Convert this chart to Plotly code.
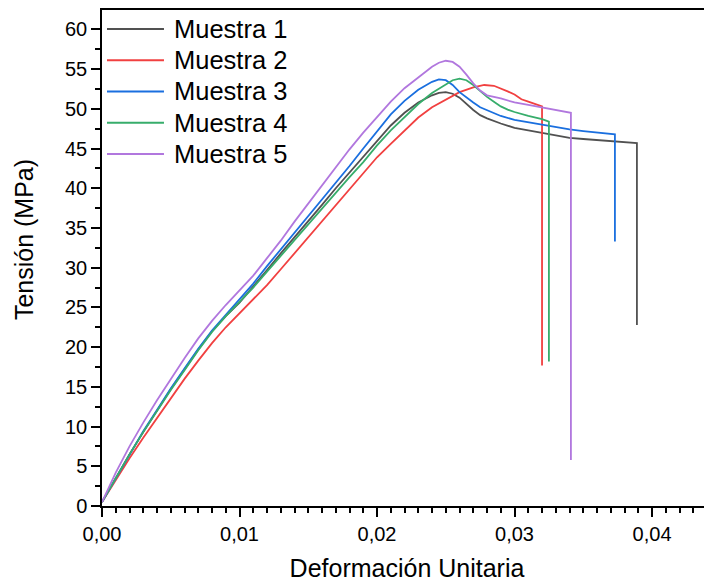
import plotly.graph_objects as go

# Strain (x) and stress (y, MPa) for each specimen
x1 = [0, 0.001, 0.002, 0.003, 0.004, 0.005, 0.006, 0.007, 0.008, 0.009, 0.010, 0.011, 0.012, 0.013,
      0.014, 0.015, 0.016, 0.017, 0.018, 0.019, 0.020, 0.021, 0.022, 0.023, 0.024, 0.0245, 0.025,
      0.0255, 0.026, 0.0265, 0.027, 0.0275, 0.028, 0.029, 0.030, 0.031, 0.032, 0.033, 0.034, 0.035,
      0.036, 0.037, 0.038, 0.0389, 0.0389]
y1 = [0.5, 3.5, 6.5, 9.3, 12.0, 14.7, 17.2, 19.7, 22.0, 23.9, 25.6, 27.6, 29.7, 31.8,
      33.8, 35.9, 37.9, 40.0, 42.0, 44.0, 46.0, 47.9, 49.5, 50.8, 51.7, 52.0, 52.1,
      51.9, 51.4, 50.6, 49.85, 49.2, 48.8, 48.15, 47.6, 47.3, 47.0, 46.7, 46.35, 46.2,
      46.05, 45.9, 45.8, 45.7, 22.8]

x2 = [0, 0.001, 0.002, 0.003, 0.004, 0.005, 0.006, 0.007, 0.008, 0.009, 0.010, 0.011, 0.012, 0.013,
      0.014, 0.015, 0.016, 0.017, 0.018, 0.019, 0.020, 0.021, 0.022, 0.023, 0.024, 0.025, 0.026,
      0.027, 0.0278, 0.0285, 0.029, 0.0295, 0.030, 0.0305, 0.031, 0.0315, 0.032, 0.032]
y2 = [0.5, 3.3, 6.0, 8.6, 11.1, 13.6, 16.0, 18.3, 20.5, 22.5, 24.3, 26.0, 27.8, 29.8,
      31.8, 33.8, 35.8, 37.8, 39.9, 41.9, 43.9, 45.6, 47.3, 48.9, 50.2, 51.2, 52.1,
      52.7, 53.0, 52.9, 52.6, 52.2, 51.8, 51.2, 50.9, 50.6, 50.3, 17.7]

x3 = [0, 0.001, 0.002, 0.003, 0.004, 0.005, 0.006, 0.007, 0.008, 0.009, 0.010, 0.011, 0.012, 0.013,
      0.014, 0.015, 0.016, 0.017, 0.018, 0.019, 0.020, 0.021, 0.022, 0.023, 0.024, 0.0245, 0.025,
      0.0255, 0.026, 0.0265, 0.027, 0.0275, 0.028, 0.029, 0.030, 0.031, 0.032, 0.033, 0.034, 0.035,
      0.036, 0.037, 0.0373, 0.0373]
y3 = [0.5, 3.5, 6.5, 9.4, 12.1, 14.8, 17.3, 19.8, 22.1, 24.1, 26.1, 28.0, 30.2, 32.3,
      34.4, 36.5, 38.6, 40.6, 42.8, 45.0, 47.2, 49.3, 51.0, 52.4, 53.4, 53.7, 53.6,
      53.0, 52.1, 51.4, 50.8, 50.2, 49.8, 49.1, 48.6, 48.3, 48.0, 47.7, 47.4, 47.2,
      47.0, 46.85, 46.8, 33.3]

x4 = [0, 0.001, 0.002, 0.003, 0.004, 0.005, 0.006, 0.007, 0.008, 0.009, 0.010, 0.011, 0.012, 0.013,
      0.014, 0.015, 0.016, 0.017, 0.018, 0.019, 0.020, 0.021, 0.022, 0.023, 0.024, 0.025, 0.0255,
      0.026, 0.0265, 0.027, 0.0275, 0.028, 0.0285, 0.029, 0.0295, 0.030, 0.031, 0.032, 0.0325, 0.0325]
y4 = [0.5, 3.5, 6.5, 9.3, 12.0, 14.6, 17.1, 19.6, 21.9, 23.9, 25.7, 27.5, 29.5, 31.5,
      33.5, 35.5, 37.5, 39.5, 41.4, 43.3, 45.4, 47.3, 49.0, 50.6, 52.0, 53.1, 53.6,
      53.8, 53.6, 53.0, 52.2, 51.5, 50.9, 50.3, 49.9, 49.6, 49.1, 48.7, 48.4, 18.2]

x5 = [0, 0.001, 0.002, 0.003, 0.004, 0.005, 0.006, 0.007, 0.008, 0.009, 0.010, 0.011, 0.012, 0.013,
      0.014, 0.015, 0.016, 0.017, 0.018, 0.019, 0.020, 0.021, 0.022, 0.023, 0.024, 0.0245, 0.025,
      0.0255, 0.026, 0.0265, 0.027, 0.0275, 0.028, 0.029, 0.030, 0.031, 0.032, 0.033, 0.034, 0.0341, 0.0341]
y5 = [0.5, 4.2, 7.5, 10.5, 13.3, 16.0, 18.6, 21.1, 23.3, 25.3, 27.1, 29.0, 31.2, 33.4,
      35.8, 38.1, 40.4, 42.7, 44.9, 47.0, 49.0, 50.9, 52.6, 54.0, 55.3, 55.8, 56.05,
      55.9, 55.3, 54.3, 53.2, 52.3, 51.7, 51.3, 50.8, 50.5, 50.2, 49.9, 49.6, 49.5, 5.8]

names = ["Muestra 1", "Muestra 2", "Muestra 3", "Muestra 4", "Muestra 5"]
colors = ["#515151", "#F14040", "#1A6FDF", "#37AD6B", "#B177DE"]
xs = [x1, x2, x3, x4, x5]
ys = [y1, y2, y3, y4, y5]

FONT = "Liberation Sans, Arial, sans-serif"
LW = 1.8

fig = go.Figure()
for n, c, x, y in zip(names, colors, xs, ys):
    fig.add_trace(go.Scatter(x=x, y=y, mode="lines", name=n,
                             line=dict(color=c, width=LW)))

# Legend drawn inside the frame (Origin style: long line samples)
shapes = []
annotations = []
row_top = 0.9617
row_step = 0.063
for i, (n, c) in enumerate(zip(names, colors)):
    yy = row_top - i * row_step
    shapes.append(dict(type="line", xref="paper", yref="paper",
                       x0=0.0082, x1=0.1016, y0=yy, y1=yy,
                       line=dict(color=c, width=LW)))
    annotations.append(dict(text=n, xref="paper", yref="paper", x=0.1148, y=yy,
                            xanchor="left", yanchor="middle", showarrow=False,
                            font=dict(family=FONT, size=25.5, color="black")))

annotations.append(dict(text="Tensión (MPa)", textangle=-90, xref="paper", yref="paper",
                        x=-0.128, y=0.538, xanchor="center", yanchor="middle",
                        showarrow=False, font=dict(family=FONT, size=25, color="black")))

fig.update_layout(
    width=704, height=580,
    margin=dict(l=94, r=0, t=2, b=82),
    paper_bgcolor="white", plot_bgcolor="white",
    separators=",.",
    font=dict(family=FONT, color="black", size=20),
    showlegend=False,
    shapes=shapes,
    annotations=annotations,
)

fig.update_xaxes(
    range=[0, 0.04436], dtick=0.01, tick0=0, tickformat=".2f",
    showgrid=False, zeroline=False,
    showline=True, linecolor="black", linewidth=1.5, mirror=True,
    ticks="outside", ticklen=9, tickwidth=1.5, tickcolor="black",
    tickfont=dict(family=FONT, size=20, color="black"),
    minor=dict(dtick=0.001, ticks="outside", ticklen=5, tickwidth=1.5, tickcolor="black"),
    title=dict(text="Deformación Unitaria", font=dict(family=FONT, size=25, color="black"),
               standoff=16),
)
fig.update_yaxes(
    range=[0, 62.44], dtick=5, tick0=0,
    showgrid=False, zeroline=False,
    showline=True, linecolor="black", linewidth=1.5, mirror=False,
    ticks="outside", ticklen=9, tickwidth=1.5, tickcolor="black",
    tickfont=dict(family=FONT, size=20, color="black"),
    minor=dict(dtick=2.5, ticks="outside", ticklen=5, tickwidth=1.5, tickcolor="black"),
)

fig.write_html("out.html")
